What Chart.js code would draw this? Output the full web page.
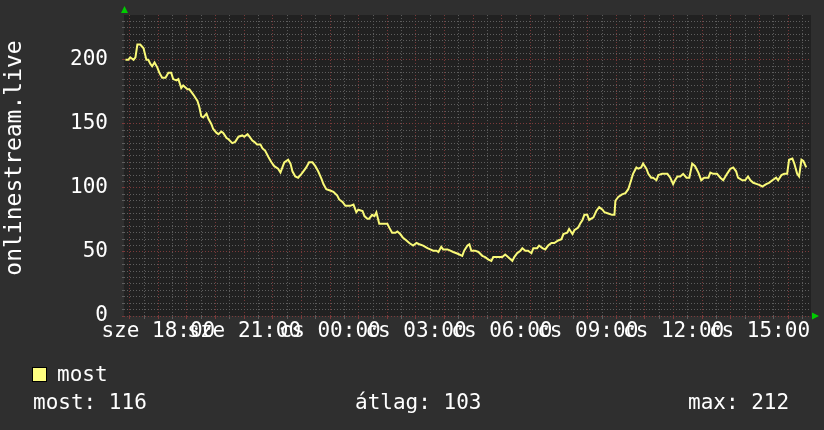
<!DOCTYPE html>
<html>
<head>
<meta charset="utf-8">
<script src="https://cdn.jsdelivr.net/npm/chart.js@4/dist/chart.umd.min.js"></script>
<style>
    body { margin: 0; background: #2f2f2f; }
    #wrap { width: 824px; height: 430px; }
</style>
</head>
<body>
<div id="wrap"><canvas id="chart_most" width="824" height="430"></canvas></div>
<script>
// percek 18:00-tól (sze) számolva, és a mért értékek
var minutes = [-69, -63, -59, -52, -48, -44, -38, -31, -29, -25, -21, -17, -13, -8, -2, 2, 8, 15, 21, 27,
    31, 38, 42, 48, 52, 61, 65, 71, 75, 82, 86, 90, 94, 101, 105, 111, 115, 122, 126, 132,
    136, 143, 147, 155, 161, 168, 176, 180, 187, 191, 197, 201, 207, 214, 218, 224, 231, 237, 243, 251,
    256, 260, 264, 272, 277, 281, 287, 293, 300, 304, 310, 316, 323, 329, 335, 342, 346, 352, 360, 367,
    375, 379, 386, 392, 402, 409, 415, 419, 428, 432, 438, 442, 448, 453, 457, 463, 472, 480, 484, 490,
    497, 501, 507, 513, 520, 526, 534, 541, 547, 555, 564, 570, 576, 583, 587, 593, 597, 606, 612, 618,
    625, 631, 637, 641, 648, 652, 656, 664, 671, 679, 685, 692, 698, 702, 713, 721, 727, 733, 742, 746,
    752, 759, 763, 769, 775, 782, 786, 794, 798, 805, 811, 817, 824, 830, 838, 845, 849, 857, 861, 868,
    872, 880, 884, 889, 893, 899, 903, 912, 918, 924, 931, 935, 943, 951, 956, 958, 964, 972, 979, 985,
    991, 995, 1002, 1006, 1012, 1016, 1023, 1027, 1033, 1037, 1044, 1048, 1056, 1063, 1067, 1073, 1079, 1083, 1088, 1094,
    1100, 1107, 1113, 1119, 1125, 1132, 1138, 1144, 1153, 1157, 1163, 1171, 1178, 1184, 1192, 1199, 1205, 1211, 1215, 1224,
    1230, 1236, 1241, 1247, 1255, 1262, 1266, 1274, 1280, 1287, 1295, 1299, 1306, 1312, 1318, 1322, 1329, 1333, 1339, 1343,
    1348, 1352, 1358];
var most = [200, 200, 202, 200, 202, 212, 212, 209, 206, 200, 200, 197, 195, 198, 194, 190, 186, 186, 190, 190,
    185, 184, 185, 178, 180, 177, 177, 174, 172, 168, 163, 156, 155, 158, 154, 150, 146, 143, 142, 144,
    143, 139, 138, 135, 136, 140, 141, 140, 142, 140, 137, 136, 134, 134, 131, 129, 124, 120, 117, 115,
    112, 116, 120, 122, 119, 113, 109, 108, 111, 113, 116, 120, 120, 117, 113, 107, 103, 99, 98, 97,
    94, 91, 89, 86, 86, 87, 81, 83, 82, 78, 76, 76, 79, 78, 81, 72, 72, 72, 69, 65,
    65, 66, 64, 61, 59, 57, 55, 57, 56, 55, 53, 52, 51, 51, 50, 54, 52, 52, 51, 50,
    49, 48, 47, 51, 55, 56, 51, 51, 50, 47, 46, 44, 43, 46, 46, 46, 48, 46, 43, 46,
    49, 51, 53, 51, 51, 49, 53, 53, 55, 53, 52, 55, 57, 57, 59, 60, 64, 65, 68, 64,
    67, 69, 72, 75, 79, 79, 75, 77, 82, 85, 83, 81, 80, 79, 79, 90, 93, 95, 96, 99,
    106, 111, 116, 115, 116, 119, 115, 111, 108, 108, 106, 110, 111, 111, 111, 108, 103, 106, 109, 109,
    111, 108, 108, 119, 117, 112, 106, 108, 108, 112, 111, 111, 108, 106, 111, 115, 116, 113, 108, 106,
    106, 109, 106, 104, 103, 102, 101, 103, 104, 106, 108, 106, 110, 111, 111, 122, 123, 119, 111, 109,
    122, 121, 116];

var xLabels = ['sze 18:00', 'sze 21:00', 'cs 00:00', 'cs 03:00', 'cs 06:00', 'cs 09:00', 'cs 12:00', 'cs 15:00'];
var yLabels = [0, 50, 100, 150, 200];
var legendStats = ['most: 116', 'átlag: 103', 'max: 212'];

var fonte = '"DejaVu Sans Mono", monospace';

let pontos = [];
for (let i = 0; i < minutes.length; i++) {
    pontos.push({ x: minutes[i], y: most[i] });
}

// fundo, título, legenda e setas verdes
const rrdPlugin = {
    id: 'rrd',
    beforeDraw(chart) {
        const ctx = chart.ctx;
        const a = chart.chartArea;
        ctx.save();
        ctx.fillStyle = '#2f2f2f';
        ctx.fillRect(0, 0, chart.width, chart.height);
        ctx.fillStyle = '#212121';
        ctx.fillRect(a.left, a.top, a.right - a.left, a.bottom - a.top);
        ctx.restore();
    },
    afterDraw(chart) {
        const ctx = chart.ctx;
        const a = chart.chartArea;
        ctx.save();
        // setas
        ctx.fillStyle = '#00cc00';
        ctx.beginPath();
        ctx.moveTo(a.left - 3, 13);
        ctx.lineTo(a.left + 4, 13);
        ctx.lineTo(a.left + 0.5, 6);
        ctx.closePath();
        ctx.fill();
        ctx.beginPath();
        ctx.moveTo(a.right + 1, a.bottom - 3.5);
        ctx.lineTo(a.right + 1, a.bottom + 3.5);
        ctx.lineTo(a.right + 8, a.bottom);
        ctx.closePath();
        ctx.fill();

        // título vertical
        ctx.fillStyle = '#ffffff';
        ctx.font = '23px ' + fonte;
        ctx.translate(21, 158);
        ctx.rotate(-Math.PI / 2);
        ctx.textAlign = 'center';
        ctx.textBaseline = 'alphabetic';
        ctx.fillText('onlinestream.live', 0, 0);
        ctx.setTransform(1, 0, 0, 1, 0, 0);

        // legenda
        ctx.font = '21px ' + fonte;
        ctx.fillStyle = '#ffff80';
        ctx.fillRect(32.5, 367.5, 14, 14);
        ctx.strokeStyle = '#000000';
        ctx.lineWidth = 1;
        ctx.strokeRect(32.5, 367.5, 14, 14);
        ctx.fillStyle = '#ffffff';
        ctx.textAlign = 'left';
        ctx.fillText('most', 57, 381);
        ctx.fillText(legendStats[0], 33, 409);
        ctx.fillText(legendStats[1], 355, 409);
        ctx.fillText(legendStats[2], 688, 409);
        ctx.restore();
    }
};

const config_most = {
    type: 'line',
    data: {
        datasets: [{
            label: 'most',
            data: pontos,
            borderColor: '#fafa78',
            borderWidth: 2,
            pointRadius: 0,
            fill: false,
            tension: 0
        }]
    },
    options: {
        responsive: false,
        animation: false,
        layout: {
            padding: { top: 12, right: 13, left: 0, bottom: 0 }
        },
        plugins: {
            legend: { display: false },
            tooltip: { enabled: false }
        },
        scales: {
            x: {
                type: 'linear',
                min: -72,
                max: 1368,
                afterBuildTicks: function (scale) {
                    let t = [];
                    for (let v = -60; v < 1368; v += 30) t.push({ value: v });
                    scale.ticks = t;
                },
                afterFit: function (scale) { scale.height = 114; },
                grid: {
                    color: function (c) { return c.tick && c.tick.value % 60 == 0 ? '#7c3a3a' : '#5e5e5e'; },
                    tickLength: 3,
                    lineWidth: 1
                },
                border: { display: false, dash: [1, 2] },
                ticks: {
                    autoSkip: false,
                    maxRotation: 0,
                    padding: 0,
                    color: '#ffffff',
                    font: { family: fonte, size: 21 },
                    callback: function (v) {
                        if (v % 180 == 0 && v >= 0) return xLabels[v / 180];
                        return '';
                    }
                }
            },
            y: {
                min: 0,
                max: 235,
                afterBuildTicks: function (scale) {
                    let t = [];
                    for (let v = 0; v <= 230; v += 5) t.push({ value: v });
                    scale.ticks = t;
                },
                afterFit: function (scale) { scale.width = 124; },
                grid: {
                    color: function (c) { return c.tick && c.tick.value % 50 == 0 ? '#7c3a3a' : '#5e5e5e'; },
                    tickLength: 2,
                    lineWidth: 1
                },
                border: { display: false, dash: [1, 2] },
                ticks: {
                    autoSkip: false,
                    padding: 14,
                    color: '#ffffff',
                    font: { family: fonte, size: 21, lineHeight: 0.1 },
                    callback: function (v) {
                        return yLabels.indexOf(v) >= 0 ? String(v) : '';
                    }
                }
            }
        }
    },
    plugins: [rrdPlugin]
};

const chart_most = new Chart(
    document.getElementById('chart_most'),
    config_most
);
</script>
</body>
</html>
